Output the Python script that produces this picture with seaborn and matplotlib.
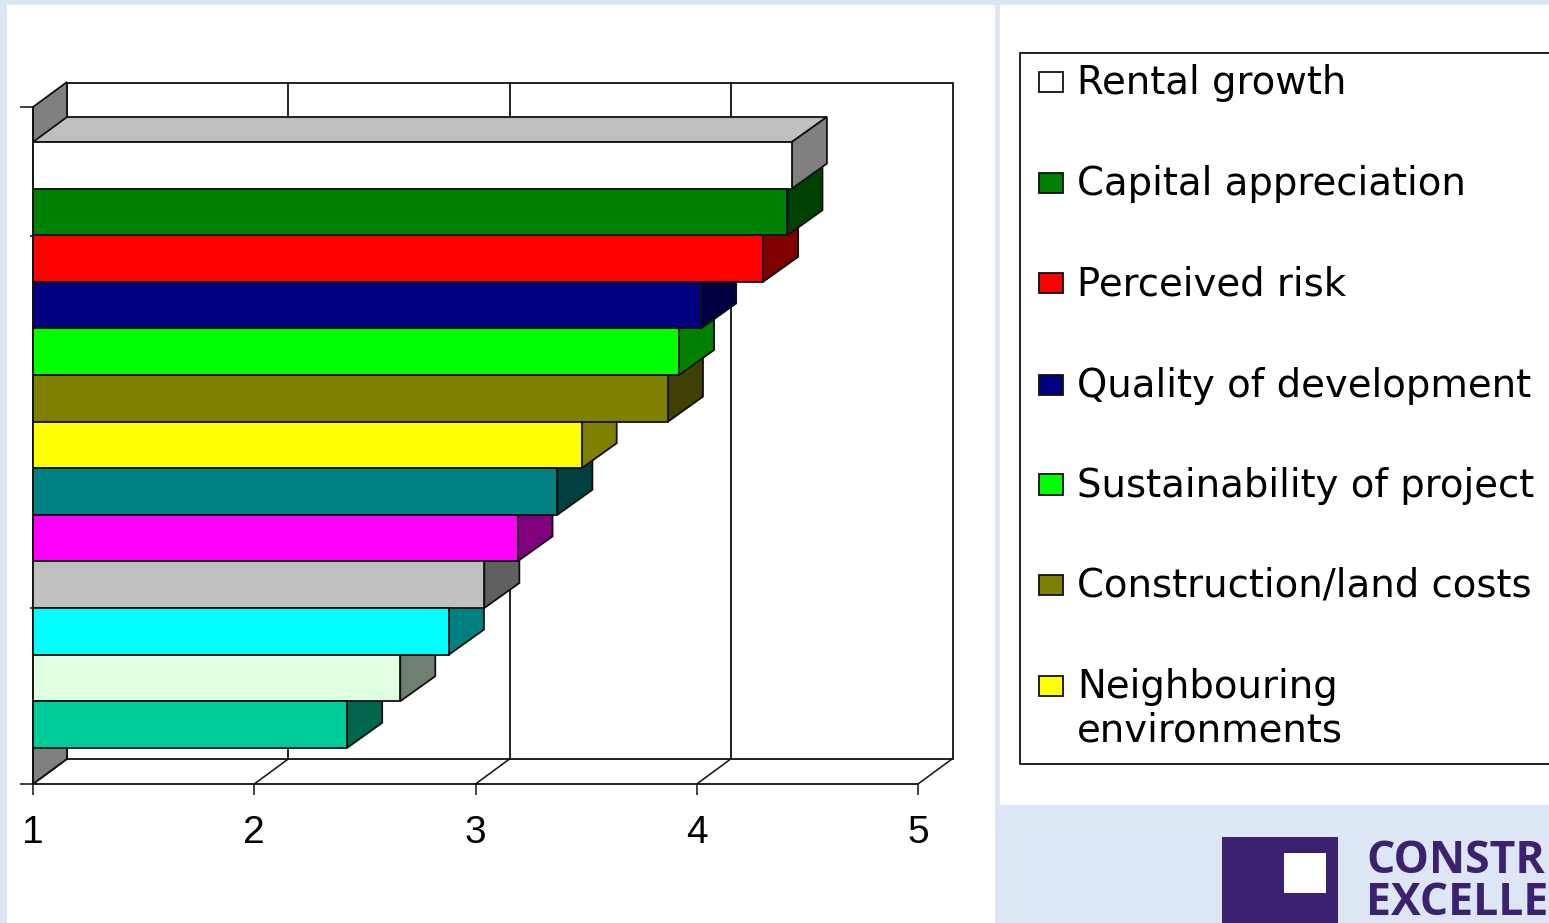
import numpy as np
import pandas as pd
import matplotlib
matplotlib.use("Agg")
import matplotlib.pyplot as plt
from matplotlib.patches import Polygon, Rectangle
from matplotlib.colors import to_rgb
import seaborn as sns

# Mean importance score per factor, highest first
factors = ["Rental growth", "Capital appreciation", "Perceived risk",
           "Quality of development", "Sustainability of project",
           "Construction/land costs", "Neighbouring\nenvironments",
           "Factor 8", "Factor 9", "Factor 10", "Factor 11", "Factor 12", "Factor 13"]
scores = [4.43, 4.41, 4.30, 4.02, 3.92, 3.87, 3.48, 3.37, 3.19, 3.04, 2.88, 2.66, 2.42]
bar_colors = ["#FFFFFF", "#008000", "#FF0000", "#000080", "#00FF00", "#808000",
              "#FFFF00", "#008080", "#FF00FF", "#C0C0C0", "#00FFFF", "#E0FFE0", "#00CC99"]
x_ticks = [1, 2, 3, 4, 5]
legend_count = 7

W, H = 1549, 923
PAGE = "#DCE6F4"
INK = "#101010"
PURPLE = "#3B2170"

sns.set_theme(style="white")
plt.rcParams["font.family"] = ["Liberation Sans", "DejaVu Sans"]

fig = plt.figure(figsize=(W / 100, H / 100), dpi=100, facecolor=PAGE)


def fx(px):
    return px / W


def fy(py):
    return 1 - py / H


def page_rect(x0, y0, x1, y1, **kw):
    fig.add_artist(Rectangle((fx(x0), fy(y1)), (x1 - x0) / W, (y1 - y0) / H,
                             transform=fig.transFigure, **kw))


# White slide panels behind the chart and the key
page_rect(7, 5, 995, H, facecolor="white", edgecolor="none")
page_rect(1000, 5, W, 805, facecolor="white", edgecolor="none")

# Plot area runs from the front-left corner to the far edge of the back wall
PX_PER_UNIT = 221.25
PX_PER_ROW = 46.6
ax = fig.add_axes([fx(33), fy(784), (953 - 33) / W, (784 - 83) / H])
ax.set_zorder(5)
ax.patch.set_alpha(0)

frame = pd.DataFrame({"factor": factors, "score": scores})
sns.barplot(data=frame, y="factor", x="score", hue="factor", order=factors,
            hue_order=factors, palette=bar_colors, saturation=1, orient="h", width=1.0,
            dodge=False, legend=False, edgecolor=INK, linewidth=1.3, ax=ax, zorder=20)

x_min, x_max = 1, 1 + 920 / PX_PER_UNIT
y_bottom = (784 - 142) / PX_PER_ROW - 0.5
y_top = (83 - 142) / PX_PER_ROW - 0.5
ax.set_xlim(x_min, x_max)
ax.set_ylim(y_bottom, y_top)
ax.set_xlabel("")
ax.set_ylabel("")

# Oblique depth of the 3-D projection, in data units
DX = 35 / PX_PER_UNIT
DY = -25 / PX_PER_ROW
WALL_DX = 34 / PX_PER_UNIT
y_front_top = (107 - 142) / PX_PER_ROW - 0.5

# Back wall, floor and left wall
ax.add_patch(Polygon([(x_min + WALL_DX, y_top), (x_max, y_top), (x_max, y_bottom + DY),
                      (x_min + WALL_DX, y_bottom + DY)], closed=True, facecolor="white",
                     edgecolor=INK, linewidth=1.3, zorder=1, clip_on=False))
ax.add_patch(Polygon([(x_min, y_front_top), (x_min + WALL_DX, y_front_top + DY),
                      (x_min + WALL_DX, y_bottom + DY), (x_min, y_bottom)], closed=True,
                     facecolor="#808080", edgecolor=INK, linewidth=1.3, zorder=2, clip_on=False))
for t in x_ticks:
    ax.plot([t, t + WALL_DX], [y_bottom, y_bottom + DY], color=INK, lw=1.1, zorder=2, clip_on=False)
    if x_min < t < x_ticks[-1]:
        ax.plot([t + WALL_DX, t + WALL_DX], [y_bottom + DY, y_top], color=INK, lw=1.3, zorder=2,
                clip_on=False)

# Side and top faces, painted from the lowest bar upwards so upper bars overlap
for row in range(len(scores) - 1, -1, -1):
    end = scores[row]
    top, bottom = row - 0.5, row + 0.5
    base = np.array(to_rgb(bar_colors[row]))
    z = 5 + (len(scores) - row) * 0.5
    ax.add_patch(Polygon([(x_min, top), (end, top), (end + DX, top + DY), (x_min + WALL_DX, top + DY)],
                         closed=True, facecolor=base * 0.75, edgecolor=INK, linewidth=1.3,
                         zorder=z, clip_on=False))
    ax.add_patch(Polygon([(end, top), (end + DX, top + DY), (end + DX, bottom + DY), (end, bottom)],
                         closed=True, facecolor=base * 0.5, edgecolor=INK, linewidth=1.3,
                         zorder=z + 0.1, clip_on=False))

# Axis lines and ticks
for side in ("top", "right"):
    ax.spines[side].set_visible(False)
ax.spines["bottom"].set_bounds(x_min, 5)
ax.spines["left"].set_bounds(y_front_top, y_bottom)
for side in ("bottom", "left"):
    ax.spines[side].set_color(INK)
    ax.spines[side].set_linewidth(1.3)
    ax.spines[side].set_zorder(30)

ax.set_xticks(x_ticks)
ax.set_xticklabels([str(t) for t in x_ticks])
ax.tick_params(axis="x", length=8, width=1.1, color=INK, pad=14, labelsize=28, bottom=True,
               labelcolor="black")
ax.set_yticks([y_front_top, y_bottom])
ax.set_yticklabels(["", ""])
ax.tick_params(axis="y", length=9.5, width=1.1, color=INK, left=True)
ax.set_yticks([(236 - 142) / PX_PER_ROW - 0.5, (608 - 142) / PX_PER_ROW - 0.5], minor=True)
ax.tick_params(axis="y", which="minor", length=2.5, width=1.1, color=INK, left=True)

# Key with one swatch per named factor
page_rect(1019.5, 52.5, W + 10, 764, facecolor="white", edgecolor=INK, linewidth=1.3, clip_on=True)
key_rows = [82, 183, 283, 385, 485, 585, 686]
for name, colour, y in zip(factors[:legend_count], bar_colors[:legend_count], key_rows):
    page_rect(1038.5, y - 10.5, 1063, y + 10, facecolor=colour, edgecolor=INK, linewidth=1.3)
    fig.text(fx(1077), fy(y - 18), name, family="DejaVu Sans", fontsize=27.8, va="top",
             ha="left", color="black", linespacing=1.2)

# Publisher mark in the lower right corner
page_rect(1222, 837, 1338, H, facecolor=PURPLE, edgecolor="none")
page_rect(1284, 853, 1326, 893, facecolor="white", edgecolor="none")
fig.text(fx(1366), fy(915), "CONSTR\nEXCELLE", family="Open Sans", weight="bold", fontsize=32,
         color=PURPLE, va="baseline", ha="left", linespacing=0.91)

fig.savefig("out.png", dpi=100, facecolor=PAGE)
